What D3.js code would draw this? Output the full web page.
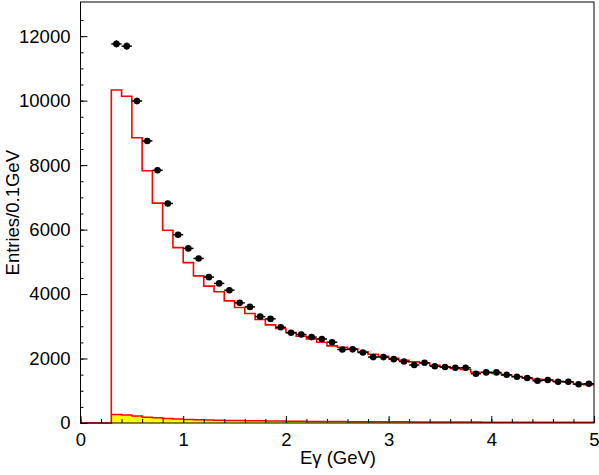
<!DOCTYPE html>
<meta charset="utf-8">
<head>
  <title>photon energy spectrum</title>
</head>
<style>
body { margin: 0; background: #fff; }
svg text { font-family: "Liberation Sans", Arial, Helvetica, sans-serif; }
</style>
<body>
<svg id="chart" width="599" height="475"></svg>
<script src="https://cdnjs.cloudflare.com/ajax/libs/d3/7.8.5/d3.min.js"></script>
<script>

// bin width 0.1 GeV
var binWidth = 0.1;

// data points, bin centres from 0.35 to 4.95
var dataStart = 0.3;
var dataCounts = [11760, 11690, 9990, 8750, 7840, 6810, 5840,
  5416, 5105, 4525, 4330, 4120, 3727, 3602, 3300, 3230, 2970,
  2800, 2745, 2665, 2605, 2506, 2280, 2285, 2186, 2045, 2045,
  1980, 1906, 1800, 1868, 1760, 1735, 1715, 1712, 1528, 1570,
  1570, 1496, 1435, 1398, 1310, 1335, 1280, 1280, 1200, 1217];

// MC histogram (red), bins from 0.0 to 5.0
var mcStart = 0.0;
var mcCounts = [0, 0, 0,
  10330, 10135, 8850, 7825, 6820, 5980, 5440,
  4975, 4565, 4245, 4070, 3790, 3584, 3397, 3211, 3043, 2932,
  2807, 2693, 2609, 2506, 2391, 2350, 2298, 2205, 2133, 2070,
  2010, 1947, 1895, 1863, 1792, 1740, 1690, 1658, 1575, 1570,
  1534, 1481, 1441, 1398, 1357, 1335, 1295, 1273, 1211, 1192];

// background histogram (yellow), bins from 0.3
var bkgStart = 0.3;
var bkgCounts = [260, 245, 215, 180, 160, 140, 125,
  112, 102, 94, 87, 81, 76, 71, 67, 63, 59,
  56, 53, 50, 48, 46, 44, 42, 40, 38, 37,
  36, 35, 34, 33, 32, 31, 30, 29, 28, 27,
  26, 25, 25, 24, 23, 22, 22, 21, 21, 20];

var xTicks = [0, 1, 2, 3, 4, 5];
var yTicks = [0, 2000, 4000, 6000, 8000, 10000, 12000];

var svg = d3.select("#chart");
var padL = 80.5, padR = 594, padT = 2, padB = 423;

var x = d3.scaleLinear().domain([0, 5]).range([padL, padR]);
var y = d3.scaleLinear().domain([0, 13060]).range([padB, padT]);

// turn counts into step points (lower edges + closing edge)
function steps(start, counts){
  var pts = counts.map(function(c, i){ return {e: start + i*binWidth, v: c}; });
  pts.push({e: start + counts.length*binWidth, v: counts[counts.length-1]});
  return pts;
}

// yellow background
var bkgPts = steps(bkgStart, bkgCounts);
svg.append("path")
  .datum(bkgPts)
  .attr("d", d3.area().curve(d3.curveStepAfter)
    .x(function(d){ return x(d.e); })
    .y0(y(0))
    .y1(function(d){ return y(d.v); }))
  .style("fill", "#ffff00")
  .style("stroke", "none");
svg.append("path")
  .datum(bkgPts)
  .attr("d", d3.line().curve(d3.curveStepAfter)
    .x(function(d){ return x(d.e); })
    .y(function(d){ return y(d.v); }))
  .style("fill", "none")
  .style("stroke", "#ff0000")
  .style("stroke-width", 1.5);

// red MC histogram
var mcPts = steps(mcStart, mcCounts);
svg.append("path")
  .datum(mcPts)
  .attr("d", d3.line().curve(d3.curveStepAfter)
    .x(function(d){ return x(d.e); })
    .y(function(d){ return y(d.v); }))
  .style("fill", "none")
  .style("stroke", "#ff0000")
  .style("stroke-width", 1.6);

// axes (ticks pointing inwards)
var gx = svg.append("g").attr("transform", "translate(0," + padB + ")");
gx.call(d3.axisBottom(x).tickValues(d3.range(0, 5.001, 0.2)).tickSize(-4).tickFormat(""));
var gx2 = svg.append("g").attr("transform", "translate(0," + padB + ")");
gx2.call(d3.axisBottom(x).tickValues(xTicks).tickSize(-7).tickPadding(10).tickFormat(d3.format("d")));

var gy = svg.append("g").attr("transform", "translate(" + padL + ",0)");
gy.call(d3.axisLeft(y).tickValues(d3.range(0, 13000, 500)).tickSize(-3).tickFormat(""));
var gy2 = svg.append("g").attr("transform", "translate(" + padL + ",0)");
gy2.call(d3.axisLeft(y).tickValues(yTicks).tickSize(-7).tickPadding(10).tickFormat(d3.format("d")));

svg.selectAll(".domain").remove();
svg.selectAll(".tick line").style("stroke", "#000").style("stroke-width", 1);
svg.selectAll(".tick text").style("font-size", "18.5px").style("fill", "#000");

// frame
svg.append("rect")
  .attr("x", padL).attr("y", padT)
  .attr("width", padR - padL).attr("height", padB - padT)
  .style("fill", "none").style("stroke", "#000").style("stroke-width", 1);

// data points with horizontal error bars
var pts = svg.append("g");
dataCounts.forEach(function(c, i){
  var cx = dataStart + (i + 0.5)*binWidth;
  var err = Math.sqrt(c);
  pts.append("line")
    .attr("x1", x(cx - binWidth/2)).attr("x2", x(cx + binWidth/2))
    .attr("y1", y(c)).attr("y2", y(c))
    .style("stroke", "#000").style("stroke-width", 1.5);
  pts.append("line")
    .attr("x1", x(cx)).attr("x2", x(cx))
    .attr("y1", y(c - err)).attr("y2", y(c + err))
    .style("stroke", "#000").style("stroke-width", 1.5);
  pts.append("circle")
    .attr("cx", x(cx)).attr("cy", y(c)).attr("r", 3.3)
    .style("fill", "#000");
});

// axis titles
svg.append("text")
  .attr("x", 376).attr("y", 464)
  .attr("text-anchor", "end")
  .style("font-size", "18.5px")
  .text("Eγ (GeV)");

svg.append("text")
  .attr("transform", "translate(19,150) rotate(-90)")
  .attr("text-anchor", "end")
  .style("font-size", "18.5px")
  .text("Entries/0.1GeV");

</script>
</body>
</html>
